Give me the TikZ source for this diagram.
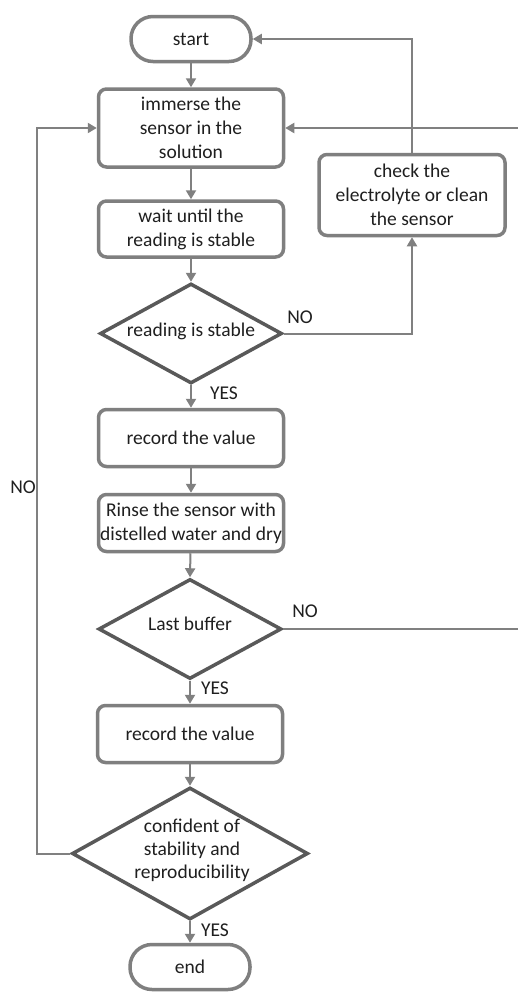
\documentclass[tikz,border=0pt]{standalone}
\usepackage{fontspec}
\setmainfont{Carlito}
\usetikzlibrary{shapes.geometric,arrows.meta}
\definecolor{boxgray}{HTML}{7F7F7F}
\definecolor{diagray}{HTML}{595959}
\definecolor{linegray}{HTML}{808080}
\definecolor{txtcol}{HTML}{1F1F1F}
\begin{document}
\begin{tikzpicture}[x=1pt,y=-1pt,
  font=\fontsize{19.5}{24}\selectfont,
  proc/.style={draw=boxgray, line width=3.5pt, rounded corners=8pt, fill=white,
    minimum width=185pt, text=txtcol, align=center, inner sep=0pt},
  term/.style={draw=boxgray, line width=3.5pt, rounded corners=22pt, fill=white,
    minimum width=120pt, minimum height=45pt, text=txtcol, inner sep=0pt},
  dec/.style={diamond, draw=diagray, line width=3.5pt, inner sep=0pt, fill=white},
  dtext/.style={text=txtcol, align=center, inner sep=0pt},
  lbl/.style={text=txtcol, inner sep=0pt},
  arr/.style={draw=linegray, line width=2pt, -{Triangle[length=9pt,width=10pt]}},
  plain/.style={draw=linegray, line width=2pt}]
\useasboundingbox (0,0) rectangle (518,993);
\fill[white] (0,0) rectangle (518,993);

\node[term] (start) at (191,39) {start};
\node[proc, minimum height=78pt] (imm) at (191,128) {immerse the\\sensor in the\\solution};
\node[proc, minimum height=56pt] (wait) at (191,229) {wait until the\\reading is stable};
\node[dec, minimum width=182pt, minimum height=100pt] (d1) at (191,333.5) {};
\node[dtext] (t1) at (191,331) {reading is stable};
\node[proc, minimum width=186pt, minimum height=81pt] (chk) at (412,195) {check the\\electrolyte or clean\\the sensor};
\node[proc, minimum height=57pt] (rec1) at (191,438) {record the value};
\node[proc, minimum height=57pt] (rinse) at (191,523) {Rinse the sensor with\\distelled water and dry};
\node[dec, minimum width=183pt, minimum height=100pt] (d2) at (190,629) {};
\node[dtext] (t2) at (190,624) {Last buffer};
\node[proc, minimum height=57pt] (rec2) at (190,734) {record the value};
\node[dec, minimum width=236pt, minimum height=132pt] (d3) at (190,853.5) {};
\node[dtext, font=\fontsize{19.5}{23}\selectfont] (t3) at (192,850) {confident of\\stability and\\reproducibility};
\node[term] (end) at (190,967) {end};

\coordinate (r1) at (518,128);
\coordinate (r2) at (518,629);
\coordinate (lc) at (37,853.5);

\draw[arr] (start) -- (imm);
\draw[arr] (imm) -- (wait);
\draw[arr] (wait) -- (d1.north);
\draw[arr] (d1.south) -- (rec1);
\draw[arr] (rec1) -- (rinse);
\draw[arr] (rinse) -- (d2.north);
\draw[arr] (d2.south) -- (rec2);
\draw[arr] (rec2) -- (d3.north);
\draw[arr] (d3.south) -- (end);
\draw[arr] (d1.east) -| (chk.south);
\draw[arr] (chk.north) |- (start.east);
\draw[arr] (r1) -- (imm.east);
\draw[plain] (d2.east) -- (r2);
\draw[arr] (d3.west) -- (lc) |- (imm.west);

\node[lbl] (no1) at (300,317) {NO};
\node[lbl] (no2) at (305,611) {NO};
\node[lbl] (no3) at (23,487) {NO};
\node[lbl] (yes1) at (224,393) {YES};
\node[lbl] (yes2) at (215,688) {YES};
\node[lbl] (yes3) at (215,930) {YES};
\end{tikzpicture}
\end{document}
